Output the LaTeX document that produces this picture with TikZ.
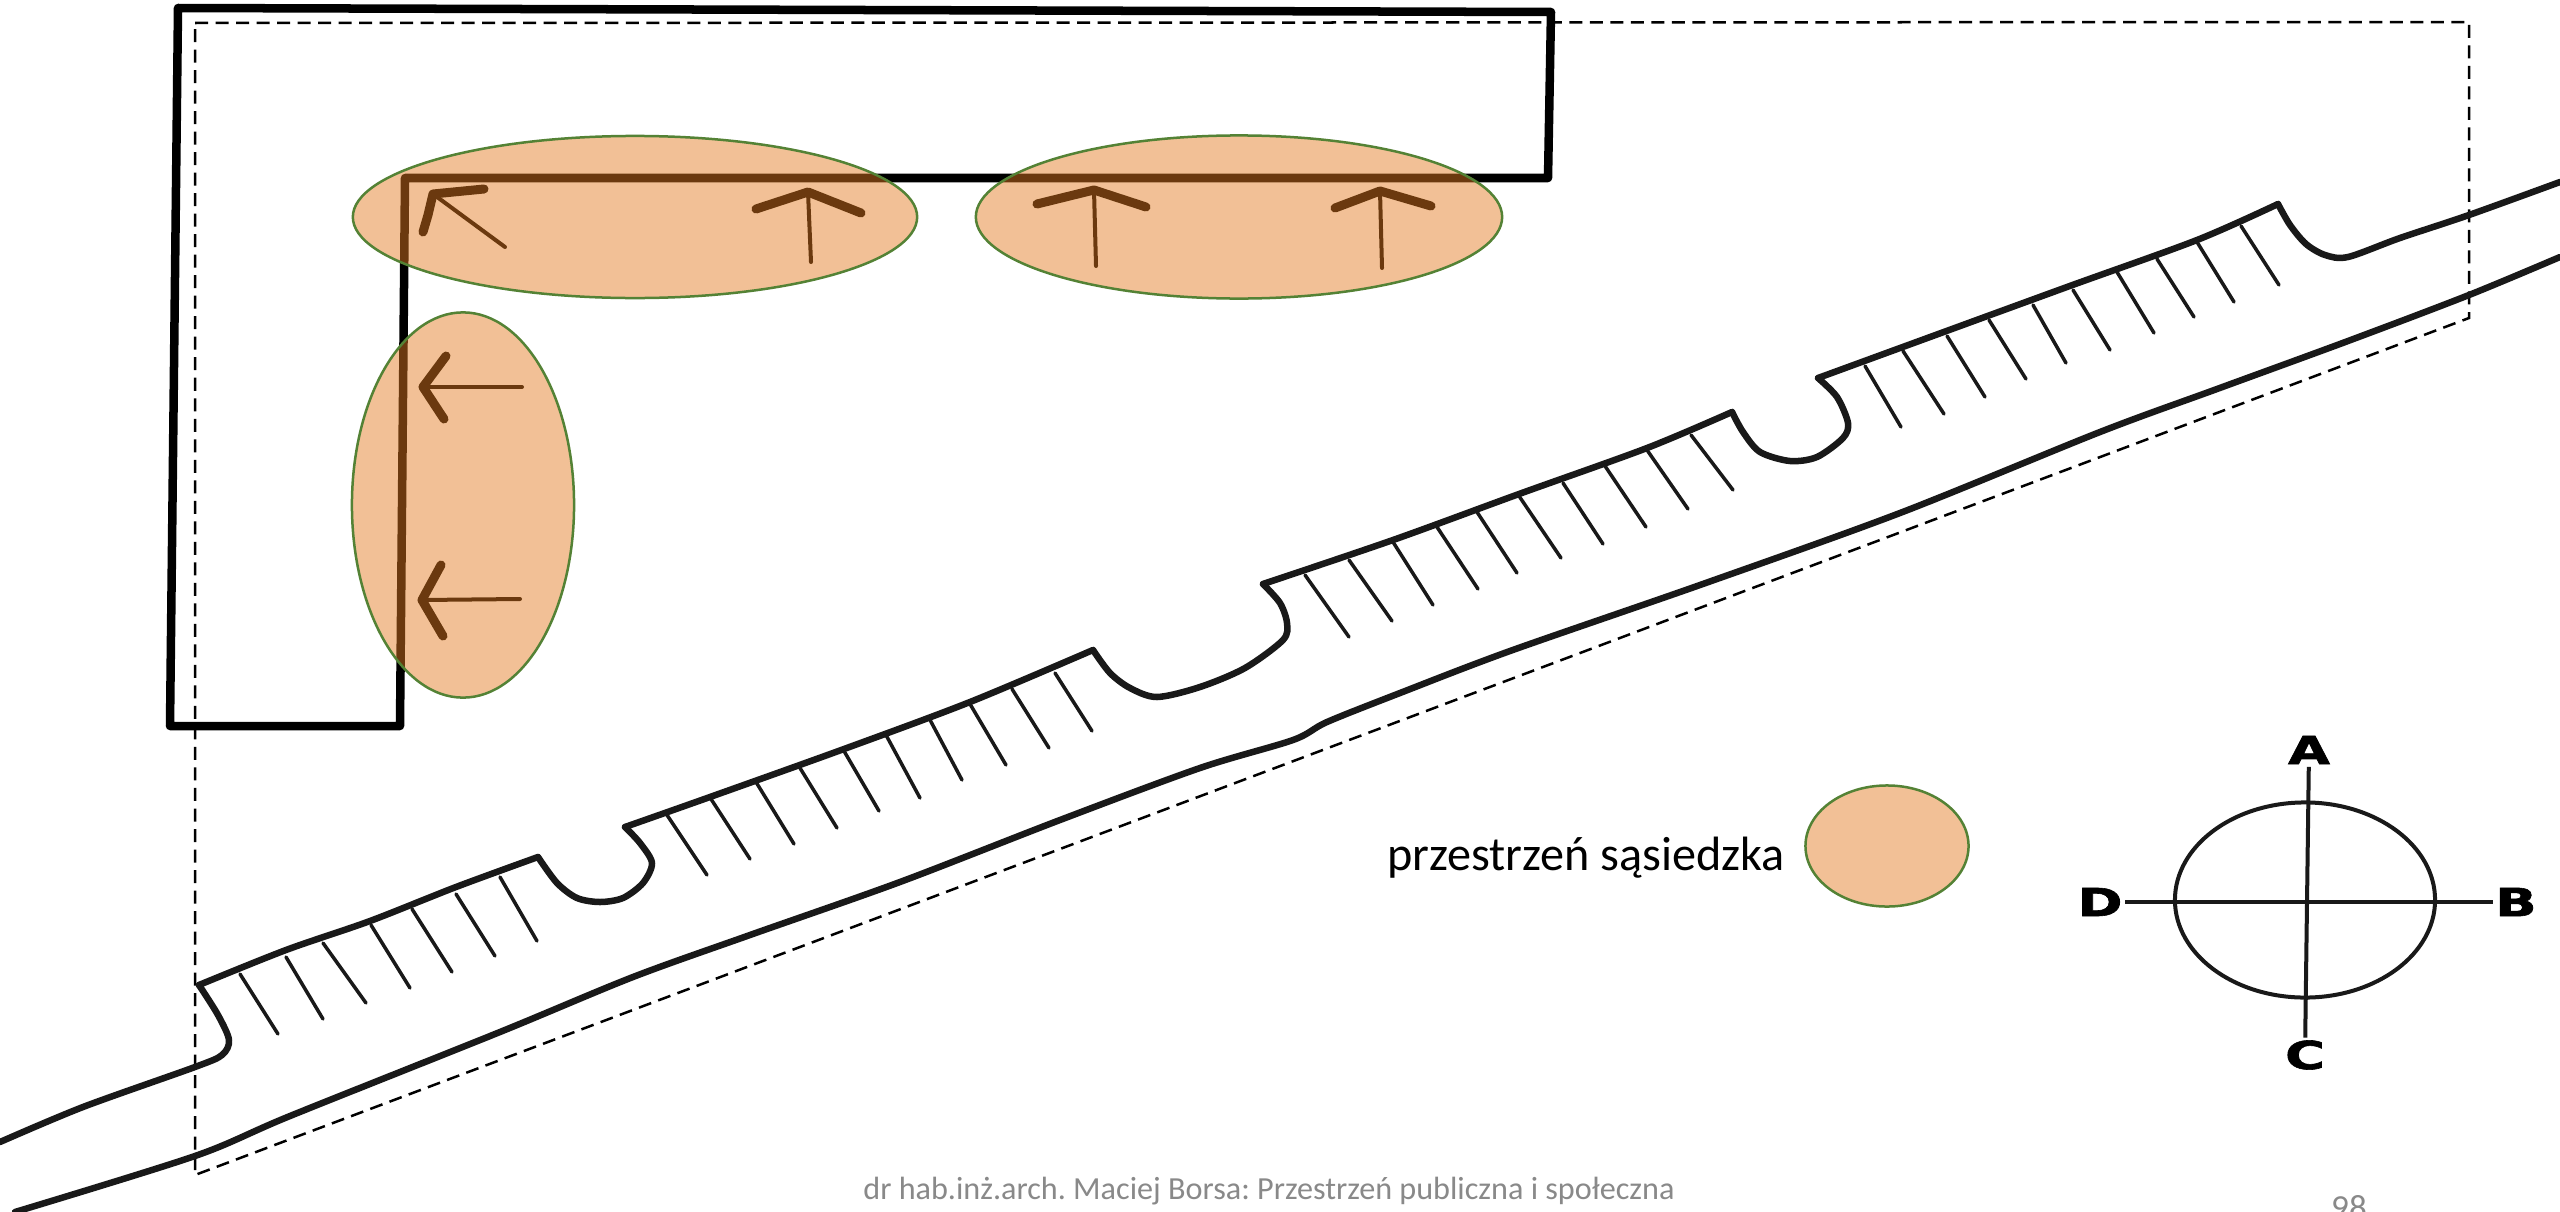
\documentclass[tikz,border=0pt]{standalone}
\usepackage{fontspec}
\setmainfont{Carlito}
\newfontfamily\compassfont{DejaVu Sans}[BoldFeatures={FakeBold=1.5}]
\usetikzlibrary{
  shapes.geometric,
  positioning
}
\definecolor{zonefill}{RGB}{228,123,32}
\definecolor{zoneborder}{RGB}{84,130,53}
\definecolor{footergray}{RGB}{137,137,137}
\newcommand{\compassmark}[1]{\scalebox{1.4}[1]{#1}}
\tikzset{
  zonebox/.style={
    ellipse, draw=zoneborder, fill=zonefill, fill opacity=0.47,
    line width=0.025cm, inner sep=0pt, outer sep=0pt
  },
  wallline/.style={
    draw=black, line width=0.085cm, line join=round
  },
  boundaryline/.style={
    draw=black, line width=0.025cm, dash pattern=on 0.13cm off 0.075cm
  },
  roadline/.style={
    draw=black!90, line width=0.065cm, line cap=round, line join=round
  },
  hatchline/.style={
    draw=black!90, line width=0.035cm, line cap=round
  },
  arrowhead/.style={
    draw=black, line width=0.09cm, line cap=round, line join=round
  },
  arrowshaft/.style={
    draw=black, line width=0.04cm, line cap=round
  },
  compassline/.style={
    draw=black!90, line width=0.04cm
  },
  compasslabel/.style={
    font=\compassfont\fontsize{11pt}{11pt}\selectfont\bfseries,
    inner sep=0.02cm
  },
  legendlabel/.style={
    font=\fontsize{13.7pt}{15pt}\selectfont, inner sep=0pt
  },
  footerlabel/.style={
    font=\fontsize{9.15pt}{10pt}\selectfont, text=footergray, inner sep=0pt
  },
}

\begin{document}
\frenchspacing
\begin{tikzpicture}[x=0.01cm, y=-0.01cm]

  \fill[white] (0,0) rectangle (2560,1212);
  \useasboundingbox (0,0) rectangle (2560,1212);

  %% Building outline
  \draw[wallline]
    (178,8) -- (170,726) -- (400,726) -- (405,178) -- (1548,178)
    -- (1551,12) -- cycle;

  %% Site boundary
  \draw[boundaryline]
    (195,23) -- (2469,22) -- (2469,318) -- (195,1175) -- cycle;

  %% Upper road edge with bays
  \draw[roadline] plot[smooth] coordinates
    {(0,1142) (83,1107) (195,1067) (222,1055) (229,1040) (218,1015) (199,985)};
  \draw[roadline] plot[smooth] coordinates
    {(199,985) (286,950) (370,921) (456,887) (538,857)};
  \draw[roadline] plot[smooth] coordinates
    {(538,857) (557,883) (577,898) (600,902) (623,898) (643,883) (652,863)
     (640,843) (625,827)};
  \draw[roadline] plot[smooth] coordinates
    {(625,827) (710,797) (844,749) (970,702) (1093,650)};
  \draw[roadline] plot[smooth] coordinates
    {(1093,650) (1110,673) (1130,688) (1157,697) (1200,687) (1245,668)
     (1283,640) (1287,623) (1280,603) (1263,584)};
  \draw[roadline] plot[smooth] coordinates
    {(1263,584) (1393,540) (1519,494) (1647,448) (1732,412)};
  \draw[roadline] plot[smooth] coordinates
    {(1732,412) (1743,432) (1760,452) (1790,461) (1817,457) (1843,438) (1848,423)
     (1837,397) (1818,378)};
  \draw[roadline] plot[smooth] coordinates
    {(1818,378) (1900,348) (2067,287) (2197,240) (2278,204)};
  \draw[roadline] plot[smooth] coordinates
    {(2278,204) (2290,225) (2306,244) (2325,255) (2348,257) (2400,238) (2469,215)
     (2560,182)};

  %% Lower road edge
  \draw[roadline] plot[smooth] coordinates
    {(15,1212) (195,1156) (290,1116) (500,1032) (633,977) (750,935) (900,882)
     (1060,820) (1200,768) (1293,740) (1327,722) (1400,693) (1510,651) (1700,585)
     (1900,513) (2100,432) (2217,389) (2348,341) (2469,295) (2560,257)};

  %% Parking hatches
  \foreach \xa/\ya/\xb/\yb in {
    240/974/278/1034, 286/957/323/1019, 323/943/366/1003, 371/925/410/988,
    412/909/452/972, 456/894/495/956, 500/877/537/941,
    667/815/707/875, 711/799/750/859, 756/782/794/844, 800/768/837/828,
    844/751/879/811, 886/735/920/798, 929/718/962/780, 970/704/1006/765,
    1012/689/1049/748, 1055/673/1092/731,
    1305/575/1349/637, 1349/560/1392/621, 1393/542/1433/605, 1437/527/1478/589,
    1477/512/1517/573, 1519/496/1561/558, 1563/483/1603/544, 1605/466/1646/527,
    1647/450/1688/509, 1691/435/1733/490,
    1865/366/1901/427, 1903/351/1944/414, 1947/336/1985/397, 1989/320/2026/379,
    2033/305/2066/363, 2073/290/2110/350, 2117/272/2154/333, 2157/259/2194/317,
    2197/242/2234/302, 2241/226/2279/285}
    \draw[hatchline] (\xa,\ya) -- (\xb,\yb);

  %% Arrows at the walls
  \draw[arrowshaft] (505,247) -- (433,194);
  \draw[arrowhead] (484,189) -- (433,194) -- (428,215) -- (423,232);
  \draw[arrowshaft] (811,262) -- (808,192);
  \draw[arrowhead] (756,209) -- (808,192) -- (861,213);
  \draw[arrowshaft] (1096,266) -- (1094,190);
  \draw[arrowhead] (1037,204) -- (1094,190) -- (1146,207);
  \draw[arrowshaft] (1382,268) -- (1380,191);
  \draw[arrowhead] (1335,208) -- (1380,191) -- (1431,206);
  \draw[arrowshaft] (522,387) -- (423,387);
  \draw[arrowhead] (446,356) -- (423,387) -- (444,419);
  \draw[arrowshaft] (520,599) -- (422,600);
  \draw[arrowhead] (441,565) -- (422,600) -- (443,636);

  %% Neighbourhood zones
  \node[zonebox, minimum width=5.64cm, minimum height=1.62cm] (zoneA) at (635,217) {};
  \node[zonebox, minimum width=5.26cm, minimum height=1.63cm] (zoneB) at (1239,217) {};
  \node[zonebox, minimum width=2.22cm, minimum height=3.85cm] (zoneC) at (463,505) {};

  %% Legend
  \node[zonebox, minimum width=1.63cm, minimum height=1.21cm] (legendzone) at (1887,846) {};
  \node[legendlabel, left=0.2cm of legendzone, yshift=-0.12cm] (legendtext)
    {przestrzeń sąsiedzka};

  %% Compass
  \node[ellipse, draw=black!90, line width=0.04cm, minimum width=2.6cm,
    minimum height=1.95cm, inner sep=0pt] (compass) at (2305,900) {};
  \node[compasslabel] (markA) at (2309,750) {\compassmark{A}};
  \node[compasslabel] (markB) at (2516,902) {\compassmark{B}};
  \node[compasslabel] (markC) at (2305,1055) {\compassmark{C}};
  \node[compasslabel] (markD) at (2100,902) {\compassmark{D}};
  \draw[compassline] (markA) -- (markC);
  \draw[compassline] (markD) -- (markB);

  %% Footer
  \node[footerlabel, anchor=base] (footer) at (1269,1199)
    {dr hab.inż.arch. Maciej Borsa: Przestrzeń publiczna i społeczna};
  \node[footerlabel, anchor=base, font=\fontsize{10pt}{11pt}\selectfont] (pagenum)
    at (2349,1219) {98};

\end{tikzpicture}
\end{document}
